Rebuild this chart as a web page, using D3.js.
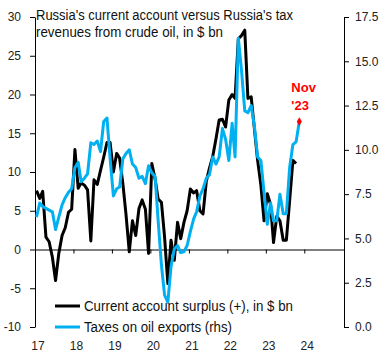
<!DOCTYPE html>
<html>
<head>
<meta charset="utf-8">
<script src="https://cdn.jsdelivr.net/npm/d3@7"></script>
<style>
    body { margin: 0; background: #fff; }
    svg { display: block; font-family: "Liberation Sans", Arial, sans-serif; }
</style>
</head>
<body>
<svg id="chart"></svg>
<script>
'use strict';

// monthly, from Jan 2017
const currentAccount = [
    7.6, 6.6, 7.5, 1.6, 1.0, -1.0, -4.0, -0.5, 1.8, 2.8, 4.8, 5.2,
    12.9, 7.9, 8.6, 8.3, 7.7, 1.1, 9.0, 8.4, 10.2, 11.9, 13.8, 13.8,
    10.0, 12.4, 11.8, 8.5, 4.5, -0.3, 3.7, 1.8, 5.3, 6.4, 5.2, -0.5,
    11.1, 9.1, 6.5, 6.1, 1.6, -4.4, 1.2, -1.4, 3.5, 1.4, 3.5, 5.0,
    7.8, 7.3, 7.6, 5.0, 4.6, 8.8, 10.5, 12.0, 14.3, 16.7, 16.8, 15.8,
    19.3, 20.0, 19.5, 27.2, 27.6, 28.3, 19.5, 19.7, 15.5, 11.5, 8.3, 3.7,
    7.2, 5.8, 0.9, 4.3, 3.7, 1.2, 1.2, 6.3, 11.5, 11.1
];
const oilTaxes = [
    6.2, 7.0, 6.8, 6.7, 6.6, 6.5, 5.5, 6.2, 6.9, 7.3, 7.6, 7.8,
    9.0, 9.3, 8.2, 8.4, 8.65, 10.4, 10.3, 10.5, 9.9, 11.6, 11.8, 9.5,
    7.4, 7.8, 7.9, 9.5, 9.8, 10.0, 9.2, 9.0, 8.4, 8.5, 8.1, 9.1,
    8.7, 8.5, 6.0, 3.5, 1.8, 1.4, 3.4, 4.4, 4.6, 4.2, 4.25, 4.6,
    5.4, 6.1, 6.5, 7.4, 7.8, 8.4, 8.6, 9.6, 9.2, 9.6, 11.2, 10.6,
    9.4, 11.5, 9.6, 16.3, 14.5, 12.2, 12.1, 12.5, 11.3, 9.6, 9.4, 7.6,
    5.8, 7.0, 6.0, 6.0, 7.5, 6.4, 6.4, 9.0, 10.3, 10.45, 11.6
];
const leftTicks = [30, 25, 20, 15, 10, 5, 0, -5, -10];
const rightTicks = [17.5, 15, 12.5, 10, 7.5, 5, 2.5, 0];
const yearTicks = [2017, 2018, 2019, 2020, 2021, 2022, 2023, 2024];
const titleLines = ["Russia's current account versus Russia's tax", 'revenues from crude oil, in $ bn'];
const seriesNames = ['Current account surplus (+), in $ bn', 'Taxes on oil exports (rhs)'];
const lastLabel = ['Nov', "'23"];

(function () {
    const width = 384;
    const height = 362;
    const black = '#000000';
    const blue = '#00b0f0';
    const red = '#ff0000';

    const svg = d3.select('#chart')
        .attr('width', width)
        .attr('height', height);

    const monthDate = i => new Date(2017, i, 15);

    const x = d3.scaleTime()
        .domain([new Date(2017, 0, 1), new Date(2025, 0, 12)])
        .range([35, 344]);
    const yLeft = d3.scaleLinear().domain([-10, 30]).range([327, 17]);
    const yRight = d3.scaleLinear().domain([0, 17.5]).range([327, 17]);

    // axes
    const leftAxis = svg.append('g')
        .attr('transform', 'translate(35,0)')
        .call(d3.axisLeft(yLeft)
            .tickValues(leftTicks)
            .tickSize(5)
            .tickSizeOuter(0)
            .tickPadding(9)
            .tickFormat(d => String(d)));
    const rightAxis = svg.append('g')
        .attr('transform', 'translate(344,0)')
        .call(d3.axisRight(yRight)
            .tickValues(rightTicks)
            .tickSize(5)
            .tickSizeOuter(0)
            .tickPadding(6)
            .tickFormat(d3.format('.1f')));
    const zeroAxis = svg.append('g')
        .attr('transform', 'translate(0,' + yLeft(0) + ')')
        .call(d3.axisBottom(x)
            .tickValues(yearTicks.slice(1).map(y => new Date(y, 0, 1)))
            .tickSize(4)
            .tickSizeOuter(0)
            .tickFormat(''));

    [leftAxis, rightAxis, zeroAxis].forEach(g => {
        g.selectAll('path, line').attr('stroke', black).attr('stroke-width', 1);
        g.selectAll('text')
            .attr('fill', '#222')
            .attr('font-size', '12px');
    });

    svg.append('g')
        .selectAll('text')
        .data(yearTicks)
        .enter().append('text')
        .attr('x', d => x(new Date(d, 0, 1)) + 3)
        .attr('y', 350)
        .attr('text-anchor', 'middle')
        .attr('font-size', '12px')
        .attr('fill', '#222')
        .text(d => String(d).slice(2));

    // series
    const lineLeft = d3.line()
        .x((d, i) => x(monthDate(i)))
        .y(d => yLeft(d));
    const lineRight = d3.line()
        .x((d, i) => x(monthDate(i)))
        .y(d => yRight(d));

    svg.append('path')
        .datum(currentAccount)
        .attr('fill', 'none')
        .attr('stroke', black)
        .attr('stroke-width', 3)
        .attr('stroke-linejoin', 'round')
        .attr('d', lineLeft);
    svg.append('path')
        .datum(oilTaxes)
        .attr('fill', 'none')
        .attr('stroke', blue)
        .attr('stroke-width', 3)
        .attr('stroke-linejoin', 'round')
        .attr('d', lineRight);

    // last point marker
    const lastIdx = oilTaxes.length - 1;
    const lx = x(monthDate(lastIdx));
    const ly = yRight(oilTaxes[lastIdx]);
    svg.append('path')
        .attr('d', d3.symbol().type(d3.symbolDiamond).size(22)())
        .attr('transform', 'translate(' + lx + ',' + ly + ')')
        .attr('fill', red);
    svg.append('g')
        .selectAll('text')
        .data(lastLabel)
        .enter().append('text')
        .attr('x', lx - 8)
        .attr('y', (d, i) => ly - 30 + i * 18)
        .attr('font-size', '13px')
        .attr('font-weight', 'bold')
        .attr('fill', red)
        .text(d => d);

    // title
    svg.append('g')
        .selectAll('text')
        .data(titleLines)
        .enter().append('text')
        .attr('x', 36)
        .attr('y', (d, i) => 20 + i * 17)
        .attr('font-size', '14px')
        .attr('fill', '#111')
        .attr('textLength', (d, i) => i === 0 ? 257 : 187)
        .attr('lengthAdjust', 'spacingAndGlyphs')
        .text(d => d);

    // legend
    const legend = svg.append('g')
        .selectAll('g')
        .data(seriesNames)
        .enter().append('g')
        .attr('transform', (d, i) => 'translate(55,' + (306 + i * 21) + ')');
    legend.append('line')
        .attr('x1', 0)
        .attr('x2', 25)
        .attr('stroke', (d, i) => i === 0 ? black : blue)
        .attr('stroke-width', 3);
    legend.append('text')
        .attr('x', 29)
        .attr('y', 5)
        .attr('font-size', '14px')
        .attr('fill', '#111')
        .attr('textLength', (d, i) => i === 0 ? 209 : 148)
        .attr('lengthAdjust', 'spacingAndGlyphs')
        .text(d => d);
}());
</script>
</body>
</html>
